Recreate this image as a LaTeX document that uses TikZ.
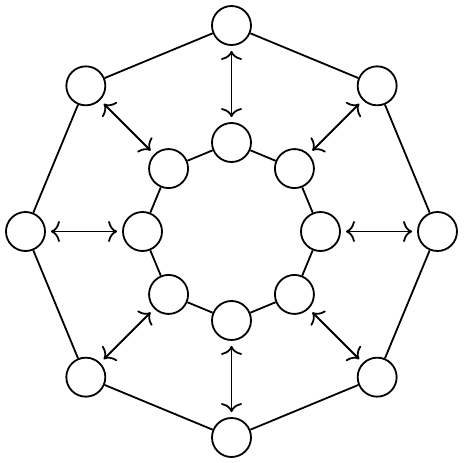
\documentclass[tikz,border=0pt]{standalone}
\usetikzlibrary{calc,arrows.meta}
\begin{document}
\begin{tikzpicture}[x=0.5pt,y=0.5pt,
  vert/.style={circle,draw,line width=0.9pt,minimum size=19.5pt,inner sep=0pt},
  edge/.style={line width=0.9pt},
  link/.style={line width=0.9pt,{To[length=4.5pt,width=10.5pt]}-{To[length=4.5pt,width=10.5pt]},shorten <=2.5pt,shorten >=2.5pt}]
\useasboundingbox (0,0) rectangle (463,463);
\coordinate (c) at (231.5,231.5);
\foreach \k in {1,...,8} {
  \pgfmathsetmacro\ang{90-45*(\k-1)}
  \node[vert] (o\k) at ($(c)+(\ang:206)$) {};
  \node[vert] (i\k) at ($(c)+(\ang:89)$) {};
}
\foreach \k [evaluate=\k as \n using {int(mod(\k,8)+1)}] in {1,...,8} {
  \draw[edge] (o\k) -- (o\n);
  \draw[edge] (i\k) -- (i\n);
  \draw[link] (o\k) -- (i\k);
}
\end{tikzpicture}
\end{document}
